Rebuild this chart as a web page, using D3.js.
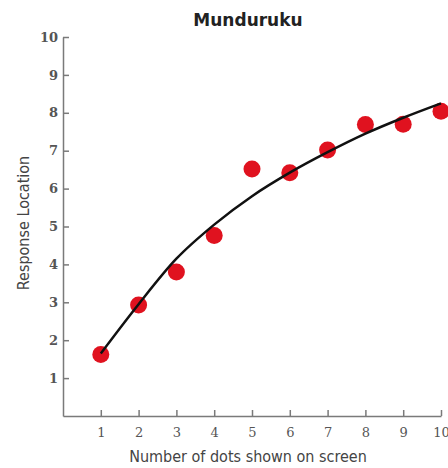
<!DOCTYPE html>
<html>
<head>
<meta charset="utf-8">
<script src="https://cdn.jsdelivr.net/npm/d3@7"></script>
<style>
  html, body { margin: 0; padding: 0; background: #fff; }
  svg { display: block; }
</style>
</head>
<body>
<svg id="chart" width="448" height="468"></svg>
<script>
// ---- data ----
const title = "Munduruku";
const xLabel = "Number of dots shown on screen";
const yLabel = "Response Location";
const dotsShown = [1, 2, 3, 4, 5, 6, 7, 8, 9, 10];
const responseLocation = [1.62, 2.93, 3.80, 4.76, 6.52, 6.42, 7.02, 7.69, 7.70, 8.04];
const fitX = [1, 2, 3, 4, 5, 6, 7, 8, 9, 10];
const fitY = [1.65, 2.95, 4.15, 5.05, 5.80, 6.42, 6.96, 7.45, 7.87, 8.25];
const xTicks = [1, 2, 3, 4, 5, 6, 7, 8, 9, 10];
const yTicks = [1, 2, 3, 4, 5, 6, 7, 8, 9, 10];

// ---- layout ----
const svg = d3.select("#chart");
const x = d3.scaleLinear().domain([0, 10]).range([63, 441]);
const y = d3.scaleLinear().domain([0, 10]).range([416, 37]);
const axisColor = "#7a7a7a";
const labelColor = "#555";

// x axis (ticks pointing inward / upward)
const gx = svg.append("g").attr("transform", `translate(0,${y(0)})`)
  .call(d3.axisBottom(x).tickValues(xTicks).tickSize(-6).tickSizeOuter(0).tickPadding(12));
gx.select(".domain").attr("stroke", axisColor).attr("stroke-width", 1.5);
gx.selectAll(".tick line").attr("stroke", axisColor).attr("stroke-width", 1.5);
gx.selectAll(".tick text").attr("fill", labelColor)
  .style("font-family", "'DejaVu Serif', serif").style("font-size", "13px");

// y axis (ticks pointing inward / right)
const gy = svg.append("g").attr("transform", `translate(${x(0)},0)`)
  .call(d3.axisLeft(y).tickValues(yTicks).tickSize(-6).tickSizeOuter(0).tickPadding(5));
gy.select(".domain").attr("stroke", axisColor).attr("stroke-width", 1.5);
gy.selectAll(".tick line").attr("stroke", axisColor).attr("stroke-width", 1.5);
gy.selectAll(".tick text").attr("fill", labelColor)
  .style("font-family", "'DejaVu Serif', serif").style("font-size", "13px").style("font-weight", "bold");

// title
svg.append("text").attr("x", 248).attr("y", 26).attr("text-anchor", "middle")
  .attr("fill", "#222").style("font-family", "'DejaVu Sans', sans-serif")
  .style("font-size", "17px").style("font-weight", "bold").text(title);

// axis titles
svg.append("text").attr("x", 248).attr("y", 462).attr("text-anchor", "middle")
  .attr("fill", "#444").style("font-family", "'DejaVu Sans Condensed', 'DejaVu Sans', sans-serif")
  .style("font-size", "16px").text(xLabel);

svg.append("text").attr("transform", "translate(29,223) rotate(-90)").attr("text-anchor", "middle")
  .attr("fill", "#444").style("font-family", "'DejaVu Sans Condensed', 'DejaVu Sans', sans-serif")
  .style("font-size", "16px").text(yLabel);

// points
svg.append("g").selectAll("circle")
  .data(dotsShown.map((d, i) => [d, responseLocation[i]]))
  .join("circle")
  .attr("cx", d => x(d[0])).attr("cy", d => y(d[1])).attr("r", 8.5)
  .attr("fill", "#e0121f");

// fitted curve
const line = d3.line().x(d => x(d[0])).y(d => y(d[1])).curve(d3.curveMonotoneX);
svg.append("path").datum(fitX.map((d, i) => [d, fitY[i]]))
  .attr("d", line).attr("fill", "none").attr("stroke", "#111").attr("stroke-width", 2.5);
</script>
</body>
</html>
